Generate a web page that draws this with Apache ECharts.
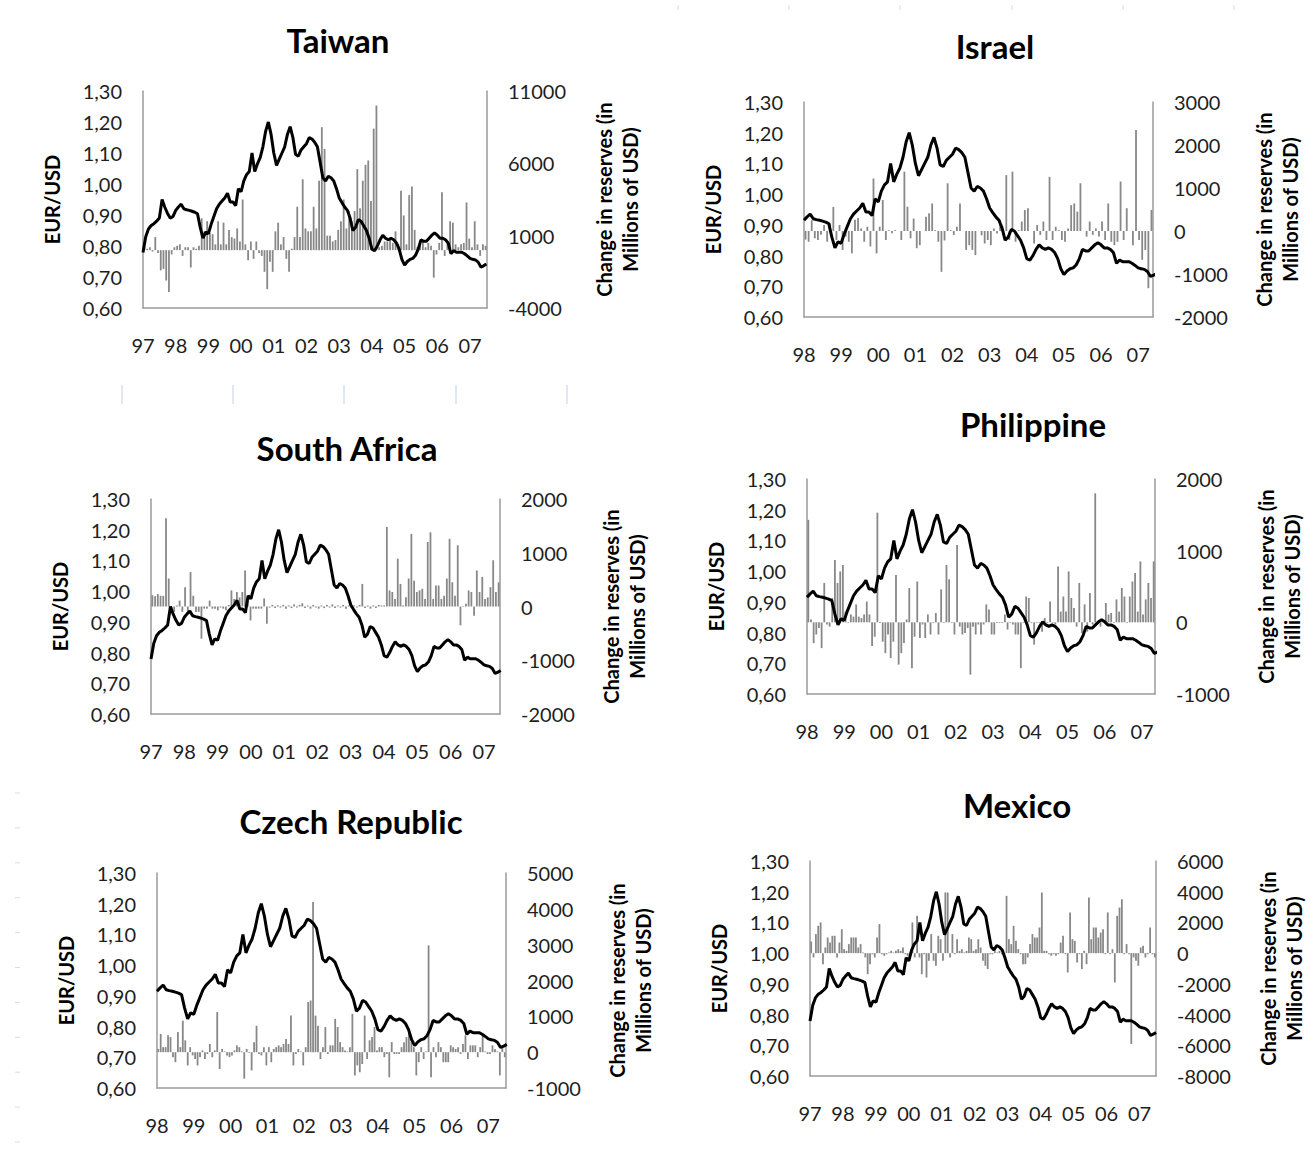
<!DOCTYPE html>
<html>
<head>
<meta charset="utf-8">
<script src="https://cdn.jsdelivr.net/npm/echarts@6/dist/echarts.min.js"></script>
<style>
html,body{margin:0;padding:0;background:#fff;}
#chart{width:1308px;height:1154px;}
</style>
</head>
<body>
<div id="chart"></div>
<script>
// ---------- DATA ----------
// EUR/USD, monthly, Jan 1997 .. Jul 2007
const eurUsd = [
0.779,0.830,0.855,0.866,0.872,0.880,0.890,0.950,0.925,0.905,0.890,0.895,
0.915,0.926,0.935,0.920,0.917,0.915,0.912,0.909,0.904,0.860,0.825,0.845,
0.840,0.870,0.895,0.920,0.935,0.945,0.955,0.970,0.942,0.942,0.930,0.985,
0.975,1.010,1.030,1.040,1.100,1.040,1.065,1.085,1.120,1.170,1.200,1.160,
1.100,1.060,1.080,1.100,1.120,1.160,1.185,1.150,1.095,1.090,1.110,1.120,
1.130,1.150,1.145,1.135,1.120,1.070,1.020,1.010,1.025,1.020,1.010,0.985,
0.955,0.940,0.926,0.915,0.890,0.850,0.860,0.885,0.880,0.865,0.850,0.825,
0.790,0.785,0.800,0.820,0.835,0.825,0.820,0.825,0.820,0.810,0.790,0.757,
0.738,0.750,0.757,0.760,0.770,0.790,0.820,0.815,0.815,0.825,0.835,0.842,
0.835,0.825,0.825,0.820,0.810,0.775,0.785,0.780,0.780,0.780,0.775,0.768,
0.760,0.757,0.755,0.748,0.732,0.736,0.742
];
const eurStartYear = 1997;

// Change in reserves (millions of USD), monthly
const taiwanReserves = [
200,100,200,-100,900,-200,-1400,-1300,-2100,-2900,-300,200,
300,400,-400,200,200,-1200,200,100,300,2200,1300,2000,
1200,1100,400,2000,400,1900,400,1400,900,800,1500,600,
3500,400,-700,600,-600,600,-200,-400,-1500,-2700,-800,-1500,
1300,1900,400,900,-600,-1500,100,900,3000,900,4900,1500,
1300,1300,3000,1500,4800,8500,7000,1000,1000,600,700,1400,
2000,3500,1500,2700,2000,2700,5600,2900,4800,5900,6200,3400,
8400,10000,200,300,600,600,700,500,1300,400,4100,2400,
400,3800,4400,1400,200,400,600,200,500,300,-1900,-300,
500,4000,-400,500,2000,1900,400,200,400,500,3300,800,
200,2000,400,-400,400,300
];
const israelReserves = [
-200,-250,250,-170,-210,-90,140,-250,180,560,-210,140,
-440,-130,-250,-520,260,300,60,-250,100,-360,1220,-520,
100,720,-210,20,-50,20,0,-210,1380,565,-170,290,
-400,-330,0,330,410,640,20,-250,-950,-220,1110,20,
-90,100,640,0,-440,-330,-440,-560,0,-100,-290,-210,
-330,60,-60,260,-90,1300,-210,1380,-250,20,220,490,
530,0,-290,140,-90,220,-210,1260,-210,100,20,-210,
-250,60,600,640,450,1110,0,-130,220,-90,60,-130,
220,-210,640,-250,-330,-250,1150,-210,530,0,-330,2350,
-210,-670,-440,-1330,490
];
const southAfricaReserves = [
210,190,230,200,200,1640,520,-100,-100,20,110,-100,
360,-100,640,200,-100,-100,-600,-40,-40,110,-40,-40,
-70,-20,-40,-70,30,300,140,270,170,270,670,140,
-260,-40,-40,-40,-40,150,-320,-20,30,-30,20,-20,
30,-40,20,-30,40,-20,30,60,-30,20,-40,30,
-20,-40,20,-30,30,-20,40,-30,20,-20,30,-40,
20,-30,20,-20,30,420,-30,20,-40,20,-30,30,
20,20,1480,300,270,140,890,420,20,170,520,1350,
480,270,300,330,140,1200,1380,140,390,390,140,200,
520,1260,450,200,1140,-350,-10,50,300,270,-170,670,
270,550,140,170,360,860,270,450
];
const philippineReserves = [
1430,40,-290,-170,-80,-360,550,-30,-60,340,870,550,
710,800,150,-10,110,80,250,80,60,110,290,110,
-330,-200,1530,-10,-270,-430,-170,-500,-270,660,-590,-430,
-290,40,480,-640,-200,570,-220,-30,-220,110,-170,-10,
130,-170,460,-10,800,600,-10,-170,1080,-60,-170,-150,
-80,-730,-60,-170,-30,-170,-30,250,180,-170,-170,-10,
-10,-10,110,-100,-10,-30,-170,-170,-640,-10,360,340,
-10,-310,-10,-10,-130,60,-10,290,-10,-30,780,150,
360,150,710,340,200,-60,550,-150,250,-130,410,-30,
1800,-10,-60,10,270,110,130,-10,320,150,480,360,
-10,360,570,690,150,850,110,320,550,340,850
];
const czechReserves = [
90,510,140,140,470,420,-140,-280,560,140,880,330,
-370,140,-90,-190,-370,-140,50,-190,-50,230,-140,50,
1120,-470,90,20,-90,-140,-90,50,190,140,20,-740,
90,-20,-510,280,740,-50,-90,140,-370,140,-280,90,
140,190,140,230,370,230,1020,-370,-50,90,20,-370,
140,1400,1440,4190,1020,740,-190,140,700,-50,190,190,
930,700,280,140,50,20,140,1070,-650,-370,-560,-330,
1020,-190,330,420,700,50,140,140,-140,-50,-700,280,
-50,-50,-50,140,280,420,560,280,140,-650,-280,140,
-190,20,2980,-700,140,-140,280,140,-280,-280,-280,190,
140,90,140,-50,230,470,-190,190,190,190,-140,140,
470,20,-50,-50,190,90,20,-650,140,-140
];
const mexicoReserves = [
760,-280,1240,1780,2000,-720,370,1020,690,1130,1130,-280,
690,1560,260,150,590,1020,1020,1020,370,590,40,-280,
-1370,-720,-70,-280,1020,1890,-70,-170,-70,40,150,40,
150,260,150,370,-70,-170,40,2000,-280,2430,-280,-1370,
-70,-1590,-500,1240,-500,-820,1130,910,-500,3950,3950,-280,
1240,-70,910,150,260,40,150,1020,910,150,260,910,
370,-500,-820,-1040,-70,-70,150,40,150,-70,-280,3730,
910,590,1780,800,260,-70,-720,-720,-280,590,1240,1020,
1020,1670,3950,150,150,-70,-170,-70,-170,-70,690,1130,
-70,-1260,2650,910,800,-610,-70,-1040,150,-720,3620,910,
1670,1670,1020,1340,1560,-70,2650,-70,260,-1910,2430,2970,
3510,-70,590,-70,-5920,-280,-500,-820,370,480,-280,-70,
1670,-70,-280
];

// Tick labels
const eurTicks = [0.6,0.7,0.8,0.9,1.0,1.1,1.2,1.3];
const years97 = [1997,1998,1999,2000,2001,2002,2003,2004,2005,2006,2007];
const years98 = [1998,1999,2000,2001,2002,2003,2004,2005,2006,2007];
const yearLabels = {1997:'97',1998:'98',1999:'99',2000:'00',2001:'01',2002:'02',2003:'03',2004:'04',2005:'05',2006:'06',2007:'07'};
const taiwanTicks = [-4000,1000,6000,11000];
const israelTicks = [-2000,-1000,0,1000,2000,3000];
const southAfricaTicks = [-2000,-1000,0,1000,2000];
const philippineTicks = [-1000,0,1000,2000];
const czechTicks = [-1000,0,1000,2000,3000,4000,5000];
const mexicoTicks = [-8000,-6000,-4000,-2000,0,2000,4000,6000];

const titles = ['Taiwan','Israel','South Africa','Philippine','Czech Republic','Mexico'];
const leftName = 'EUR/USD';
const rightName = 'Change in reserves (in\nMillions of USD)';

// ---------- LAYOUT ----------
const FONT = 'Lato, "Open Sans", sans-serif';
const AX = '#9b9b9b';
const panels = [
  {title:titles[0], tx:338, ty:40, left:143, top:91, width:344, height:217, x0:1997, x1:2007.52, years:years97, rMin:-4000, rMax:11000, rTicks:taiwanTicks, bars:taiwanReserves, rGap:104},
  {title:titles[1], tx:995, ty:46, left:804, top:102, width:349, height:215, x0:1998, x1:2007.4, years:years98, rMin:-2000, rMax:3000, rTicks:israelTicks, bars:israelReserves, rGap:98},
  {title:titles[2], tx:347, ty:448, left:151, top:499, width:349, height:215, x0:1997, x1:2007.48, years:years97, rMin:-2000, rMax:2000, rTicks:southAfricaTicks, bars:southAfricaReserves, rGap:98},
  {title:titles[3], tx:1033, ty:424, left:807, top:479, width:348, height:215, x0:1998, x1:2007.35, years:years98, rMin:-1000, rMax:2000, rTicks:philippineTicks, bars:philippineReserves, rGap:98},
  {title:titles[4], tx:351, ty:821, left:157, top:873, width:349, height:215, x0:1998, x1:2007.48, years:years98, rMin:-1000, rMax:5000, rTicks:czechTicks, bars:czechReserves, rGap:98},
  {title:titles[5], tx:1017, ty:805, left:810, top:861, width:349, height:215, x0:1997, x1:2007.5, years:years97, rMin:-8000, rMax:6000, rTicks:mexicoTicks, bars:mexicoReserves, rGap:99}
];

const grid = [], xAxis = [], yAxis = [], series = [], graphic = [];
const lbl = {fontFamily:FONT, fontSize:20, color:'#1e1e1e'};
const nameStyleL = {fontFamily:FONT, fontSize:20, fontWeight:'bold', color:'#000', lineHeight:20};
const nameStyleR = {fontFamily:FONT, fontSize:20, fontWeight:'bold', color:'#000', lineHeight:26};

panels.forEach((p, i) => {
  grid.push({left:p.left, top:p.top, width:p.width, height:p.height, containLabel:false});
  xAxis.push({
    type:'value', gridIndex:i, min:p.x0, max:p.x1,
    axisLine:{show:true, onZero:false, lineStyle:{color:AX, width:1.5}},
    axisTick:{show:false}, splitLine:{show:false},
    axisLabel:Object.assign({customValues:p.years, margin:27, formatter:v => yearLabels[Math.round(v)] || ''}, lbl)
  });
  xAxis.push({type:'category', gridIndex:i, show:false, data:p.bars.map((_, k) => k)});
  yAxis.push({
    type:'value', gridIndex:i, position:'left', min:0.6, max:1.3,
    axisLine:{show:true, onZero:false, lineStyle:{color:AX, width:1.5}},
    axisTick:{show:false}, splitLine:{show:false},
    axisLabel:Object.assign({customValues:eurTicks, margin:21, formatter:v => v.toFixed(2).replace('.', ',')}, lbl),
    name:leftName, nameLocation:'middle', nameRotate:90, nameGap:81, nameTextStyle:nameStyleL
  });
  yAxis.push({
    type:'value', gridIndex:i, position:'right', min:p.rMin, max:p.rMax,
    axisLine:{show:true, onZero:false, lineStyle:{color:AX, width:1.5}},
    axisTick:{show:false}, splitLine:{show:false},
    axisLabel:Object.assign({customValues:p.rTicks, margin:21, formatter:v => String(v)}, lbl),
    name:rightName, nameLocation:'middle', nameRotate:90, nameGap:p.rGap, nameTextStyle:nameStyleR
  });
  series.push({
    type:'bar', xAxisIndex:2*i+1, yAxisIndex:2*i+1, data:p.bars, barWidth:1.8,
    itemStyle:{color:'#888888'}, silent:true, z:2
  });
  const lineData = [];
  eurUsd.forEach((v, m) => {
    const t = eurStartYear + m / 12;
    if (t >= p.x0 - 1e-9) lineData.push([t, v]);
  });
  series.push({
    type:'line', xAxisIndex:2*i, yAxisIndex:2*i, data:lineData, showSymbol:false, symbol:'none',
    lineStyle:{color:'#000', width:3}, z:5, silent:true, clip:true
  });
  graphic.push({type:'text', z:10, style:{x:p.tx, y:p.ty, text:p.title, textAlign:'center', textVerticalAlign:'middle', fontFamily:FONT, fontSize:33, fontWeight:'bold', fill:'#000'}});
});

// faint page marks (decoration)
[678,789,900,1012,1123,1234].forEach(x => graphic.push({type:'line', shape:{x1:x, y1:5, x2:x, y2:10}, style:{stroke:'#d3daea', lineWidth:1}}));
[122,233,344,456,567].forEach(x => graphic.push({type:'line', shape:{x1:x, y1:385, x2:x, y2:404}, style:{stroke:'#d8dfec', lineWidth:1.5}}));
for (let k = 0; k < 11; k++) {
  const y = 793 + k * 34.9;
  graphic.push({type:'line', shape:{x1:15, y1:y, x2:20, y2:y}, style:{stroke:'#d8dde8', lineWidth:1}});
}

const chart = echarts.init(document.getElementById('chart'), null, {renderer:'svg'});
chart.setOption({animation:false, backgroundColor:'#fff', grid, xAxis, yAxis, series, graphic});
</script>
</body>
</html>
